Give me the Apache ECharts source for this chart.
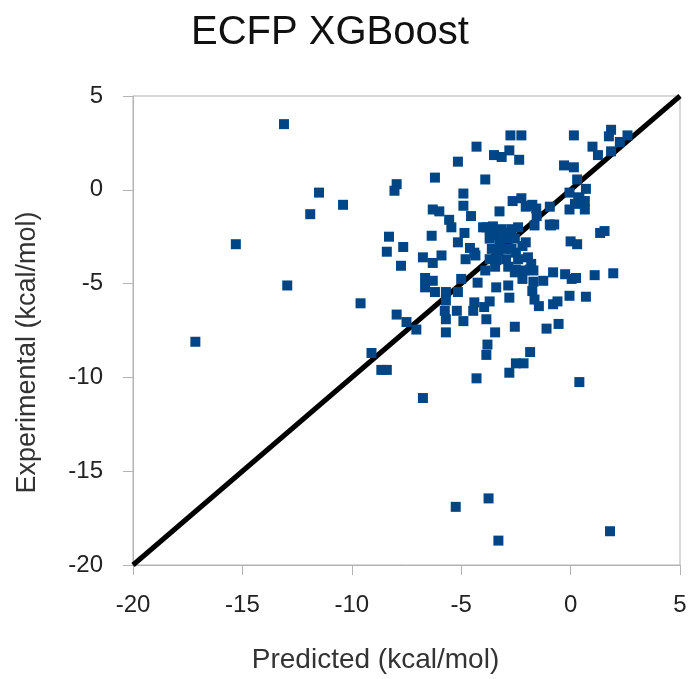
<!DOCTYPE html>
<html>
<head>
<meta charset="utf-8">
<title>ECFP XGBoost</title>
<script src="https://cdn.jsdelivr.net/npm/echarts@6/dist/echarts.min.js"></script>
<style>
  html, body { margin: 0; padding: 0; background: #fff; }
  #chart { width: 691px; height: 679px; }
</style>
</head>
<body>
<div id="chart"></div>
<script>
// predicted vs experimental (kcal/mol)
const predicted = [
  -13.1, -11.5, -10.4, -11.9, -15.3, -12.95, -9.6, -17.15, -9.1, -8.65, -8.4,
  -7.95, -8.05, -8.3, -8.4, -7.65, -7.75, -7.95, -7.5, -7.05, -6.75, -4.3, 0.4,
  -5.25, -3.75, -3.3, 1.8,
  -2.75, -2.25, 0.15, 1.85, 1.75, 2.6, 2.25, -4.3, -3.5, -3.15, -2.8, -2.35,
  1.0, 1.25, 1.85, -5.15, -0.3, 0.15, -6.2, -3.9, 0.3, -4.9, -0.05, 0.7, 0.4,
  -4.9, -6.3, -6.0, -5.55, -4.55, -3.25, -2.65, -2.25, -2.05, -1.75, -1.55,
  -0.95, -0.05, 0.65, -5.45, -4.85, -6.35, -6.75, -5.9, -5.15, -4.6, -3.85,
  -3.55, -0.95, -0.75, 1.35, 1.55, 0.0, 0.3, -2.05,
  -6.3, -4.4, -6.65, -6.3, -6.65, -6.2, -5.7, -5.15, -5.0, -5.7, -5.75, -5.7,
  -5.2, -4.9, -5.7, -4.4, -4.45, -3.7, -3.95, -3.85, -3.45, -4.25, -3.4, -2.85,
  -2.8, -2.5, -2.2, -1.85, -1.75, -1.65, -1.45, -1.25, -0.8, -0.25, 0.05, 0.25,
  1.1, 1.95, -0.05, 0.7, -0.8, -0.6, -1.1, -0.55, -2.55, -3.8, -3.85, -1.85,
  -2.15, -2.5, -2.8,
  -1.57, -3.15, -2.7, -2.4, -3.7, -3.5, -3.25, -2.85, -2.55, -3.6, -3.3, -3.0,
  -2.7, -2.5, -3.7, -3.4, -2.95, -2.4, -2.2, -1.95, -4.35, -3.9, -3.45, -2.85,
  -2.55, -1.8, -1.7, -2.1, -1.7, -4.0, -3.7, -1.8, 0.35, 0.65, 0.2, -0.9,
  -1.65, -4.8, -3.1
]
const experimental = [
  3.5, -0.15, -0.8, -1.3, -2.9, -5.1, -6.05, -8.1, -8.7, -9.6, -9.6,
  0.3, -0.05, -2.5, -3.3, -3.05, -4.05, -6.65, -7.05, -7.45, -11.1, -10.05, -10.25,
  -16.9, -16.45, -18.7, -18.2,
  2.9, 2.9, 2.9, 3.2, 2.85, 2.9, 2.55, 2.3, 1.85, 1.75, 2.1, 1.6,
  2.3, 1.85, 2.05, 1.5, 1.3, 1.2, 0.65, 0.55, 0.55, -0.2, -0.15, 0.05, -0.45,
  -0.85, -1.05, -1.15, -1.6, -1.4, -1.15, -0.6, -0.45, -0.9, -0.8, -1.4,
  -0.9, -1.05, -1.05, -2.0, -2.3, -2.45, -3.6, -3.5, -2.8, -3.1, -2.0,
  -1.95, -1.85, -1.85, -2.3, -2.2, -2.75, -2.9, -2.8,
  -3.9, -3.35, -4.7, -4.85, -5.2, -5.45, -5.45, -5.45, -4.75, -5.9, -6.45, -6.9,
  -6.45, -7.0, -7.6, -6.0, -6.45, -5.95, -6.25, -6.9, -7.6, -4.95, -5.2, -5.1,
  -5.75, -4.25, -4.75, -4.25, -5.4, -5.85, -6.2, -4.85, -4.4, -4.5, -4.75, -4.7,
  -4.55, -4.45, -5.65, -5.7, -6.1, -5.95, -7.4, -7.15, -7.3, -8.25, -8.8, -8.65,
  -9.25, -9.25, -9.75,
  -1.0, -2.1, -2.1, -2.0, -2.6, -2.45, -2.8, -2.6, -2.6, -3.15, -3.25, -3.15,
  -3.15, -3.35, -3.7, -3.75, -3.7, -3.7, -3.0, -3.6, -3.5, -4.3, -4.1, -4.1,
  -4.4, -3.95, -4.3, -4.3, -4.9, -2.0, -2.1, -0.85, -0.4, -0.6, -0.75, -1.9,
  -1.9, -3.7, -2.3
]
const parityLine = [-20, 5]
const tickValues = [-20, -15, -10, -5, 0, 5]

const points = predicted.map((p, i) => [p, experimental[i]])

const axisGray = '#b3b3b3'
const font = '"Liberation Sans", Arial, sans-serif'

function makeAxis(name, extra) {
  return Object.assign({
    type: 'value',
    min: tickValues[0],
    max: tickValues[tickValues.length - 1],
    interval: 5,
    name,
    nameLocation: 'middle',
    axisLine: { show: true, onZero: false, lineStyle: { color: axisGray, width: 1 } },
    axisTick: { show: true, inside: false, length: 10, lineStyle: { color: axisGray } },
    splitLine: { show: false }
  }, extra)
}

const chart = echarts.init(document.getElementById('chart'))

chart.setOption({
  backgroundColor: '#fff',
  animation: false,
  title: {
    text: 'ECFP XGBoost',
    left: 186,
    top: 8,
    textStyle: { color: '#111', fontSize: 40, fontWeight: 'normal', fontFamily: font }
  },
  grid: {
    left: 133,
    right: 11,
    top: 96,
    bottom: 112,
    show: true,
    borderColor: axisGray,
    borderWidth: 1
  },
  xAxis: makeAxis('Predicted (kcal/mol)', {
    nameGap: 81,
    nameTextStyle: { color: '#333', fontSize: 28, fontFamily: font, padding: [0, 62, 0, 0] },
    axisLabel: { color: '#222', fontSize: 24, fontFamily: font, margin: 28 }
  }),
  yAxis: makeAxis('Experimental (kcal/mol)', {
    nameGap: 92,
    nameTextStyle: { color: '#333', fontSize: 27, fontFamily: font, padding: [0, 44, 0, 0] },
    axisLabel: { color: '#222', fontSize: 24, fontFamily: font, margin: 30 }
  }),
  series: [
    {
      type: 'line',
      data: parityLine.map(v => [v, v]),
      showSymbol: false,
      lineStyle: { color: '#000', width: 5 },
      z: 1
    },
    {
      type: 'scatter',
      data: points,
      symbol: 'rect',
      symbolSize: 10,
      itemStyle: { color: '#004586', opacity: 1 },
      z: 2
    }
  ]
})
</script>
</body>
</html>
